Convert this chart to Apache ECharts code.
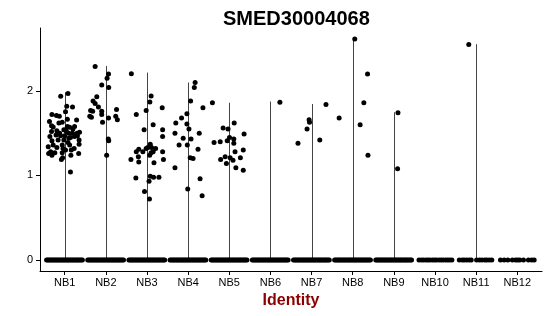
<!DOCTYPE html>
<html>
<head>
<meta charset="utf-8">
<script src="https://cdn.jsdelivr.net/npm/echarts@6/dist/echarts.min.js"></script>
<style>html,body{margin:0;padding:0;background:#fff;}#c{width:550px;height:316px;}</style>
</head>
<body>
<div id="c"></div>
<script>
const title = 'SMED30004068';
const xTitle = 'Identity';
const categories = ['NB1','NB2','NB3','NB4','NB5','NB6','NB7','NB8','NB9','NB10','NB11','NB12'];
const yTicks = [0, 1, 2];
// top of each violin (max expression per group)
const violinMax = [1.985, 2.296, 2.217, 2.10, 1.86, 1.874, 1.846, 2.615, 1.748, 0, 2.553, 0];

// non-zero cells: [jitter offset, value]
const nb1Points = [[-0.097,1.937],[0.08,1.97],[0.05,1.819],[0.19,1.81],[0.02,1.754],[-0.31,1.72],[-0.2,1.71],[0.065,1.664],[0.29,1.657],[-0.37,1.637],[-0.14,1.62],[-0.06,1.63],[-0.32,1.587],[-0.28,1.572],[0.065,1.58],[0.12,1.57],[0.24,1.58],[0.03,1.54],[-0.02,1.54],[-0.19,1.53],[0.36,1.51],[0.30,1.50],[0.19,1.50],[0.1,1.50],[-0.32,1.52],[-0.21,1.48],[0,1.47],[-0.1,1.47],[0.14,1.45],[0.24,1.46],[0.35,1.42],[-0.31,1.41],[-0.16,1.42],[-0.02,1.42],[0.08,1.39],[0.35,1.37],[-0.28,1.36],[-0.06,1.36],[0.12,1.36],[-0.4,1.34],[-0.19,1.33],[0.23,1.32],[0.16,1.30],[0.02,1.30],[-0.34,1.28],[-0.24,1.27],[-0.06,1.27],[0.34,1.26],[0.15,1.24],[-0.31,1.24],[-0.05,1.21],[-0.08,1.19],[0.14,1.04],[-0.39,1.26],[-0.04,1.32],[0.04,1.52],[-0.13,1.70],[0.31,1.47],[-0.36,1.46],[0.1,1.44],[-0.12,1.5],[0.2,1.55]];
const nb2Points = [[-0.26,2.288],[0.065,2.20],[0.03,2.15],[0.07,2.04],[-0.1,2.07],[-0.22,1.93],[-0.31,1.88],[-0.26,1.85],[-0.18,1.81],[-0.37,1.77],[-0.32,1.76],[-0.1,1.76],[0.26,1.78],[-0.1,1.72],[-0.39,1.70],[-0.35,1.69],[0.24,1.70],[0.28,1.66],[0.065,1.68],[-0.08,1.63],[0.06,1.43],[0.02,1.24],[0.07,1.41]];
const nb3Points = [[-0.38,2.205],[0.1,1.94],[0.07,1.87],[0.37,1.80],[-0.02,1.77],[-0.26,1.72],[0.15,1.60],[-0.07,1.54],[0.38,1.54],[0.38,1.46],[-0.2,1.31],[0.02,1.33],[0.08,1.37],[0.21,1.32],[-0.26,1.28],[-0.1,1.28],[0.1,1.27],[0.15,1.28],[-0.39,1.19],[-0.21,1.22],[0.065,1.24],[0.38,1.28],[0.4,1.19],[-0.2,1.16],[0.17,1.15],[0.08,0.99],[0.16,0.98],[0.29,0.98],[-0.27,0.97],[0.05,0.93],[-0.06,0.81],[0.06,0.72],[-0.02,1.32],[0.11,1.33]];
const nb4Points = [[0.17,2.10],[0.15,2.04],[0.06,1.88],[0.36,1.80],[-0.16,1.68],[-0.3,1.62],[-0.03,1.61],[-0.03,1.73],[-0.32,1.50],[0.02,1.55],[0.27,1.50],[-0.12,1.44],[0.07,1.43],[-0.22,1.36],[-0.02,1.36],[0.24,1.31],[0.12,1.20],[-0.32,1.09],[0.29,0.96],[-0.01,0.84],[0.34,0.76],[0.05,1.21]];
const nb5Points = [[-0.41,1.86],[0.12,1.62],[-0.15,1.56],[-0.03,1.55],[0.36,1.49],[0.005,1.45],[0.11,1.43],[-0.05,1.41],[-0.37,1.39],[-0.22,1.40],[0.11,1.38],[0.34,1.30],[0.14,1.28],[-0.1,1.22],[0.02,1.21],[0.27,1.21],[-0.21,1.19],[0.09,1.18],[-0.07,1.14],[0.16,1.09],[0.34,1.06]];
const nb6Points = [[0.23,1.866]];
const nb7Points = [[0.35,1.84],[-0.06,1.66],[-0.05,1.63],[-0.11,1.55],[-0.33,1.38],[0.2,1.42]];
const nb8Points = [[0.05,2.615],[0.36,2.20],[0.27,1.86],[-0.33,1.68],[0.18,1.60],[0.37,1.24]];
const nb9Points = [[0.1,1.743],[0.09,1.08]];
const nb10Points = [];
const nb11Points = [[-0.18,2.55]];
const nb12Points = [];
const nonZeroPoints = [nb1Points,nb2Points,nb3Points,nb4Points,nb5Points,nb6Points,nb7Points,nb8Points,nb9Points,nb10Points,nb11Points,nb12Points];

// zero-valued cells: jitter offsets
const denseZeroOffsets = [-0.44,-0.41,-0.38,-0.35,-0.32,-0.29,-0.26,-0.23,-0.20,-0.17,-0.14,-0.11,-0.08,-0.05,-0.02,0.01,0.04,0.07,0.10,0.13,0.16,0.19,0.22,0.25,0.28,0.31,0.34,0.37,0.40,0.43];
const nb10ZeroOffsets = [-0.39,-0.33,-0.28,-0.22,-0.17,-0.12,-0.06,-0.01,0.04,0.10,0.15,0.20,0.26,0.31,0.36,0.41];
const nb11ZeroOffsets = [-0.41,-0.34,-0.29,-0.23,-0.17,-0.12,0.01,0.08,0.14,0.21,0.26,0.32,0.38];
const nb12ZeroOffsets = [-0.41,-0.32,-0.23,-0.12,-0.04,0.01,0.06,0.15,0.27,0.35,0.41];
const zeroOffsets = [denseZeroOffsets,denseZeroOffsets,denseZeroOffsets,denseZeroOffsets,denseZeroOffsets,denseZeroOffsets,denseZeroOffsets,denseZeroOffsets,denseZeroOffsets,nb10ZeroOffsets,nb11ZeroOffsets,nb12ZeroOffsets];

const FONT = '"Liberation Sans", Arial, sans-serif';
const pts = [];
categories.forEach((c, i) => {
  zeroOffsets[i].forEach(o => pts.push([i + 1 + o, 0]));
  nonZeroPoints[i].forEach(p => pts.push([i + 1 + p[0], p[1]]));
});
const violins = categories.map((c, i) => [i + 1, violinMax[i]]);

const chart = echarts.init(document.getElementById('c'), null, {renderer: 'canvas'});
chart.setOption({
  animation: false,
  backgroundColor: '#fff',
  title: {
    text: title, left: 218, top: 4,
    textStyle: {fontFamily: FONT, fontSize: 20, fontWeight: 'bold', color: '#000'}
  },
  grid: {left: 40, right: 8, top: 28, bottom: 45, containLabel: false},
  xAxis: {
    type: 'value', min: 0.4, max: 12.6,
    name: xTitle, nameLocation: 'middle', nameGap: 20,
    nameTextStyle: {fontFamily: FONT, fontSize: 16, fontWeight: 'bold', color: '#8B0000'},
    axisLine: {show: true, onZero: false, lineStyle: {color: '#000', width: 1}},
    axisTick: {show: true, length: 4, lineStyle: {color: '#000'}, customValues: categories.map((c, i) => i + 1)},
    axisLabel: {
      fontFamily: FONT, fontSize: 11, color: '#000', margin: 6,
      customValues: categories.map((c, i) => i + 1),
      formatter: v => categories[Math.round(v) - 1] || ''
    },
    splitLine: {show: false}
  },
  yAxis: {
    type: 'value', min: -0.131, max: 2.745,
    axisLine: {show: true, onZero: false, lineStyle: {color: '#000', width: 1}},
    axisTick: {show: true, length: 4, lineStyle: {color: '#000'}, customValues: yTicks},
    axisLabel: {fontFamily: FONT, fontSize: 11, color: '#000', margin: 7, customValues: yTicks},
    splitLine: {show: false}
  },
  series: [
    {
      type: 'custom',
      data: violins,
      renderItem: (params, api) => {
        const x = api.value(0), m = api.value(1);
        if (!(m > 0)) return null;
        const a = api.coord([x, 0]), b = api.coord([x, m]);
        return {type: 'line', shape: {x1: Math.round(a[0]) + 0.5, y1: a[1], x2: Math.round(b[0]) + 0.5, y2: b[1]},
                style: {stroke: '#444', lineWidth: 1}};
      },
      z: 1
    },
    {
      type: 'scatter',
      data: pts,
      symbol: 'circle',
      symbolSize: 5,
      itemStyle: {color: '#000', opacity: 1},
      z: 2
    }
  ]
});
</script>
</body>
</html>
